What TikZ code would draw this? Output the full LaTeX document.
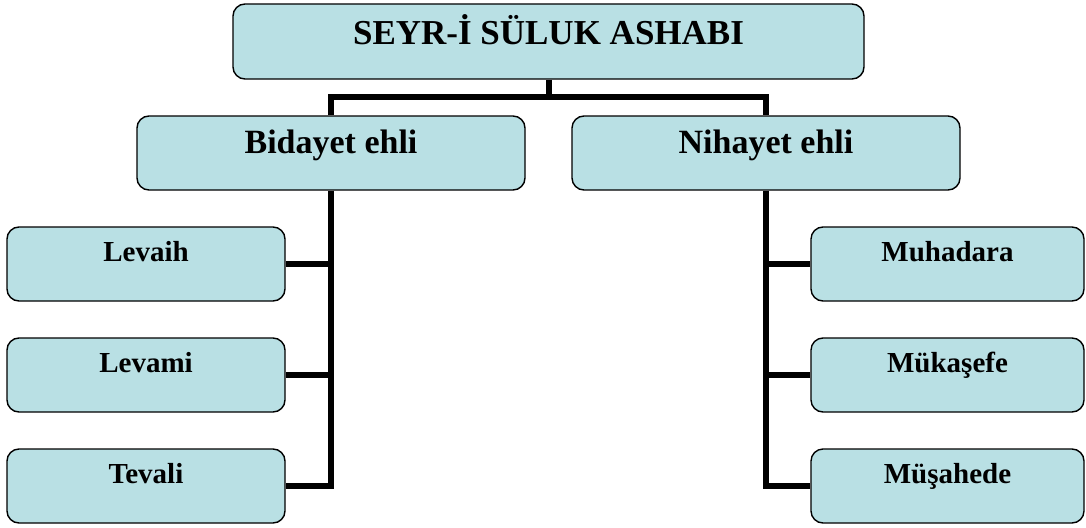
\documentclass[tikz,border=0pt]{standalone}
\usepackage{fontspec}
\setmainfont{Liberation Serif}
\usepackage{tikz}

\definecolor{boxblue}{RGB}{185,224,228}

\begin{document}
\begin{tikzpicture}[x = 1pt, y = -1pt,
		box/.style = {draw, line width = 1.4pt, fill = boxblue, rounded corners = 12pt, inner sep = 0pt, font = \bfseries},
		head/.style = {box, minimum width = 631pt, text height = 41pt, text depth = 34pt, font = \bfseries\fontsize{35}{40}\selectfont},
		group/.style = {box, minimum width = 388pt, text height = 37pt, text depth = 37pt, font = \bfseries\fontsize{34}{40}\selectfont},
		leaf/.style = {box, text height = 34pt, text depth = 40pt, font = \bfseries\fontsize{29}{34}\selectfont},
		conn/.style = {line width = 6pt}]
		\useasboundingbox (0,0) rectangle (1086,527);
		% boxes
		\node[head] (sulk) at (548.5,41.5) {SEYR-İ SÜLUK ASHABI};
		\node[group] (bid) at (331,153) {Bidayet ehli};
		\node[group] (nih) at (766,153) {Nihayet ehli};
		\node[leaf, minimum width = 278pt] (lev) at (146,264) {Levaih};
		\node[leaf, minimum width = 278pt] (lvm) at (146,375) {Levami};
		\node[leaf, minimum width = 278pt] (tev) at (146,486) {Tevali};
		\node[leaf, minimum width = 273pt] (muh) at (947.5,264) {Muhadara};
		\node[leaf, minimum width = 273pt] (muk) at (947.5,375) {Mükaşefe};
		\node[leaf, minimum width = 273pt] (mus) at (947.5,486) {Müşahede};
		% lines
		\coordinate (bus) at (548.5,97);
		\draw[conn] (sulk.south) -- (bus);
		\draw[conn] (bid.north) |- (bus) -| (nih.north);
		\draw[conn] (bid.south) |- (tev.east);
		\draw[conn] (bid.south |- lev.east) -- (lev.east);
		\draw[conn] (bid.south |- lvm.east) -- (lvm.east);
		\draw[conn] (nih.south) |- (mus.west);
		\draw[conn] (nih.south |- muh.west) -- (muh.west);
		\draw[conn] (nih.south |- muk.west) -- (muk.west);
	\end{tikzpicture}
\end{document}
